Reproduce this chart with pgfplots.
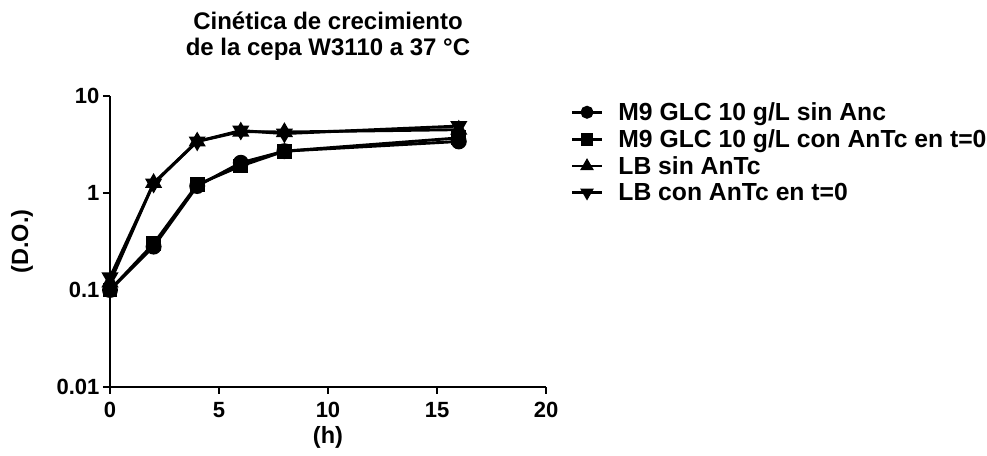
\documentclass[border=0pt]{standalone}
\usepackage{pgfplots}
\pgfplotsset{compat=1.18}
\usepackage{fontspec}
\setmainfont{Liberation Sans}
\begin{document}
\begin{tikzpicture}
\path[use as bounding box] (0pt,0pt) rectangle (987pt,455pt);
\begin{axis}[
  at={(110pt,68pt)}, anchor=south west,
  scale only axis, width=436pt, height=291pt,
  xmin=0, xmax=20, ymin=0.01, ymax=10,
  ymode=log, log basis y=10,
  axis lines=left, axis line style={-, line width=2.8pt},
  xtick={0,5,10,15,20},
  ytick={0.01,0.1,1,10}, yticklabels={0.01,0.1,1,10},
  minor ytick={}, 
  tick style={line width=2.4pt, black},
  major tick length=7pt,
  tick align=outside,
  /pgf/number format/assume math mode=true,
  ticklabel style={font=\fontsize{22}{24}\selectfont\bfseries},
  xticklabel style={yshift=-5pt},
  yticklabel style={xshift=0pt},
  clip=false,
  title={Cinética de crecimiento\\de la cepa W3110 a 37 °C},
  title style={align=center, font=\fontsize{24}{25.5}\selectfont\bfseries, at={(axis description cs:0.5,1)}, anchor=south, yshift=26pt},
  xlabel={(h)}, ylabel={(D.O.)},
  label style={font=\fontsize{23.5}{26}\selectfont\bfseries},
  xlabel style={at={(axis description cs:0.5,-0.172)}, anchor=center},
  ylabel style={at={(axis description cs:-0.2018,0.5)}, anchor=center},
  legend style={at={(1.056,0.985)}, anchor=north west, draw=none, fill=none,
    font=\fontsize{24.7}{26.5}\selectfont\bfseries, row sep=3.5pt, inner sep=0pt,
    /tikz/every odd column/.append style={column sep=13pt}},
  legend cell align=left,
  legend image code/.code={
    \draw[line width=2.8pt] (0pt,0pt) -- (30pt,0pt);
    \draw[mark repeat=1, #1, mark size=5pt] plot coordinates {(15pt,0pt)};
  },
  every axis plot/.append style={line width=2.9pt, black, mark options={solid, fill=black}},
]
\addplot[mark=*, mark size=6.5pt] coordinates {(0,0.1) (2,0.28) (4,1.18) (6,2.05) (8,2.7) (16,3.4)};
\addlegendentry{M9 GLC 10 g/L sin Anc}
\addplot[mark=square*, mark size=6pt] coordinates {(0,0.1) (2,0.30) (4,1.22) (6,1.9) (8,2.7) (16,3.7)};
\addlegendentry{M9 GLC 10 g/L con AnTc en t=0}
\addplot[mark=triangle*, mark size=7pt] coordinates {(0,0.12) (2,1.27) (4,3.4) (6,4.3) (8,4.25) (16,4.5)};
\addlegendentry{LB sin AnTc}
\addplot[mark=triangle*, mark size=7pt, mark options={rotate=180}] coordinates {(0,0.135) (2,1.25) (4,3.4) (6,4.4) (8,4.1) (16,4.9)};
\addlegendentry{LB con AnTc en t=0}
\end{axis}
\end{tikzpicture}
\end{document}
